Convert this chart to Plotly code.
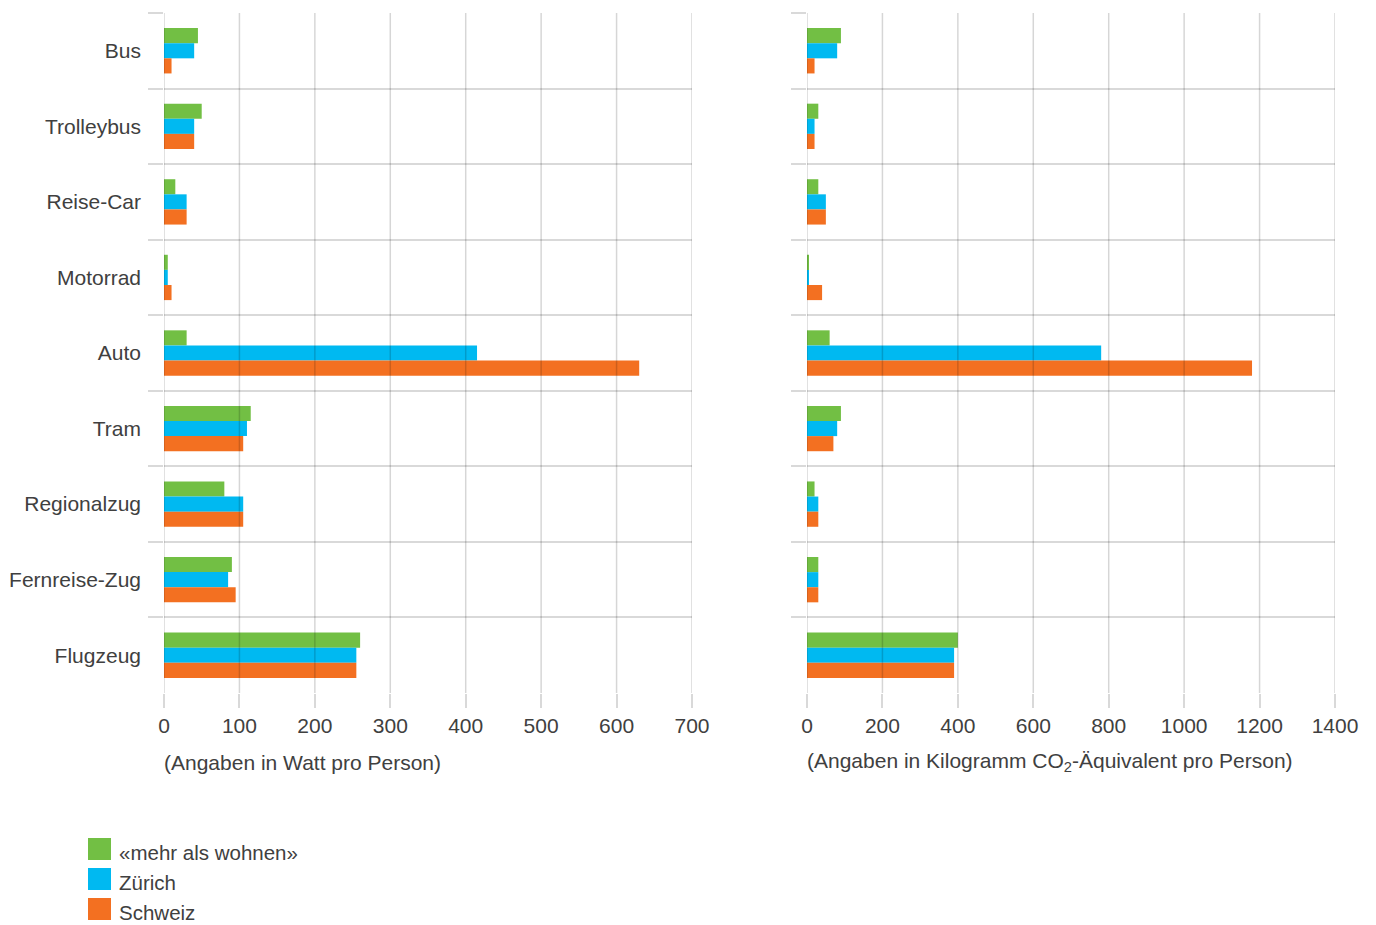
import plotly.graph_objects as go

categories = ["Bus", "Trolleybus", "Reise-Car", "Motorrad", "Auto", "Tram",
              "Regionalzug", "Fernreise-Zug", "Flugzeug"]
series_names = ["«mehr als wohnen»", "Zürich", "Schweiz"]
colors = ["#72bf44", "#00b9f1", "#f37021"]

watt_mehr = [45, 50, 15, 5, 30, 115, 80, 90, 260]
watt_zurich = [40, 40, 30, 5, 415, 110, 105, 85, 255]
watt_schweiz = [10, 40, 30, 10, 630, 105, 105, 95, 255]

co2_mehr = [90, 30, 30, 5, 60, 90, 20, 30, 400]
co2_zurich = [80, 20, 50, 5, 780, 80, 30, 30, 390]
co2_schweiz = [20, 20, 50, 40, 1180, 70, 30, 30, 390]

left_ticks = [0, 100, 200, 300, 400, 500, 600, 700]
right_ticks = [0, 200, 400, 600, 800, 1000, 1200, 1400]

left_title = "(Angaben in Watt pro Person)"
right_title = "(Angaben in Kilogramm CO<sub>2</sub>-Äquivalent pro Person)"

W, H = 1376, 925
FONT = "Liberation Sans, Arial, sans-serif"
TXT = "#404040"
GRID = "#d9d9d9"
FS = 21

fig = go.Figure()
for name, col, vals in zip(series_names, colors, [watt_mehr, watt_zurich, watt_schweiz]):
    fig.add_trace(go.Bar(orientation="h", y=categories, x=vals, name=name,
                         marker=dict(color=col, line=dict(width=0)),
                         showlegend=False, xaxis="x", yaxis="y"))
for name, col, vals in zip(series_names, colors, [co2_mehr, co2_zurich, co2_schweiz]):
    fig.add_trace(go.Bar(orientation="h", y=categories, x=vals, name=name,
                         marker=dict(color=col, line=dict(width=0)),
                         showlegend=False, xaxis="x2", yaxis="y2"))

shapes = []
# vertical gridlines drawn above bars (semi-transparent)
for v in left_ticks:
    shapes.append(dict(type="line", xref="x", yref="y domain", x0=v, x1=v, y0=0, y1=1,
                       line=dict(color="rgba(0,0,0,0.16)", width=1.5), layer="above"))
for v in right_ticks:
    shapes.append(dict(type="line", xref="x2", yref="y2 domain", x0=v, x1=v, y0=0, y1=1,
                       line=dict(color="rgba(0,0,0,0.16)", width=1.5), layer="above"))

annotations = [
    dict(text=left_title, x=162 / W, y=1 - 762 / H, xref="paper", yref="paper",
         xanchor="left", yanchor="middle", showarrow=False,
         font=dict(family=FONT, size=FS, color=TXT)),
    dict(text=right_title, x=805 / W, y=1 - 762 / H, xref="paper", yref="paper",
         xanchor="left", yanchor="middle", showarrow=False,
         font=dict(family=FONT, size=FS, color=TXT)),
]

# legend drawn as swatches + text
for i, (name, col) in enumerate(zip(series_names, colors)):
    top = 838 + i * 30
    shapes.append(dict(type="rect", xref="paper", yref="paper",
                       x0=88 / W, x1=111 / W, y0=1 - (top + 22) / H, y1=1 - top / H,
                       fillcolor=col, line=dict(width=0)))
    annotations.append(dict(text=name, x=117 / W, y=1 - (top + 14) / H,
                            xref="paper", yref="paper", xanchor="left", yanchor="middle",
                            showarrow=False, font=dict(family=FONT, size=FS - 0.5, color=TXT)))

ydom = [1 - 693 / H, 1 - 13 / H]
common_y = dict(domain=ydom, type="category", range=[8.5, -0.5], tickson="boundaries",
                ticks="outside", ticklen=15, tickcolor=GRID, tickwidth=1.5,
                showgrid=True, gridcolor=GRID, gridwidth=1.5, zeroline=False,
                showline=False, fixedrange=True, automargin=False)
common_x = dict(showgrid=False, zeroline=False, showline=False, ticks="outside",
                ticklen=14, tickcolor=GRID, tickwidth=1.5, automargin=False,
                tickfont=dict(family=FONT, size=FS, color=TXT))

fig.update_layout(
    width=W, height=H, autosize=False,
    margin=dict(l=0, r=0, t=0, b=0, pad=0),
    paper_bgcolor="white", plot_bgcolor="white",
    barmode="group", bargap=0.4, bargroupgap=0,
    font=dict(family=FONT, size=FS, color=TXT),
    xaxis=dict(domain=[164 / W, 692 / W], range=[0, 700], tickvals=left_ticks,
               anchor="y", **common_x),
    yaxis=dict(anchor="x", showticklabels=True, ticklabelstandoff=22,
               tickfont=dict(family=FONT, size=FS, color=TXT), **common_y),
    xaxis2=dict(domain=[807 / W, 1335 / W], range=[0, 1400], tickvals=right_ticks,
                anchor="y2", **common_x),
    yaxis2=dict(anchor="x2", showticklabels=False, **common_y),
    shapes=shapes,
    annotations=annotations,
)

fig.write_html("out.html")
